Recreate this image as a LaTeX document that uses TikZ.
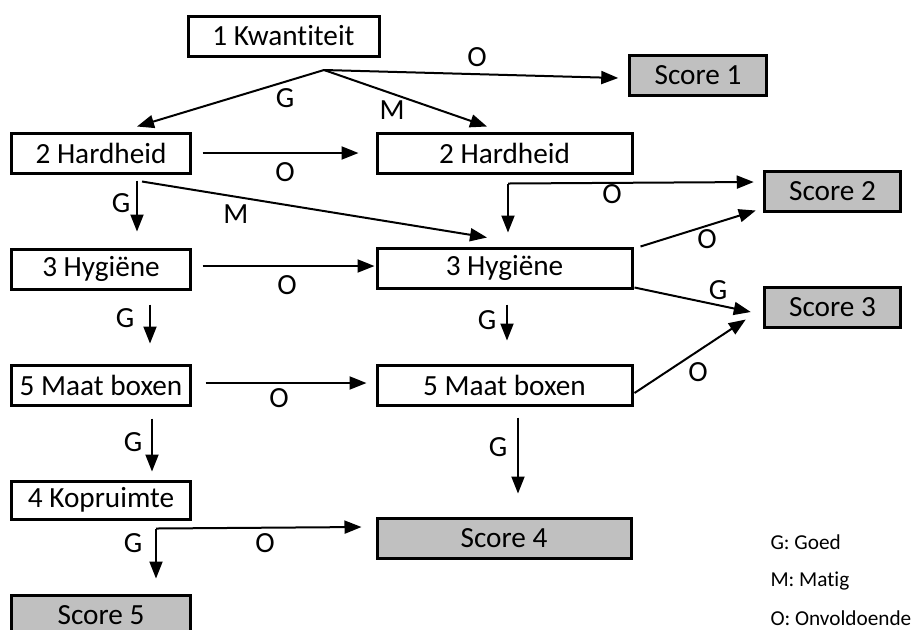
\documentclass[tikz,border=0pt]{standalone}
\usepackage{fontspec}
\setmainfont{Carlito}[Ligatures=NoCommon]
\usetikzlibrary{arrows.meta,calc}
\definecolor{scoregray}{RGB}{192,192,192}

\begin{document}
\begin{tikzpicture}[x=0.4pt, y=-0.4pt,
    font=\fontsize{11.7pt}{13pt}\selectfont,
    box/.style={draw, rectangle, line width=1.2pt, inner sep=1pt, minimum height=16pt},
    smallbox/.style={box, minimum width=71.2pt},
    widebox/.style={box, minimum width=102pt},
    scorebox/.style={box, fill=scoregray, minimum width=54.6pt},
    arr/.style={-{Triangle[length=6.8pt, width=5.2pt]}, line width=0.8pt},
    lbl/.style={inner sep=0pt},
    legend/.style={anchor=west, inner sep=0pt, font=\fontsize{8.5pt}{10pt}\selectfont}]
      \useasboundingbox (0,0) rectangle (912,629);

      % Start
      \node[box, minimum width=76.4pt] (kwant) at (283.5,36) {1 Kwantiteit};
      \coordinate (kwfork) at (324,70);

      % Left column
      \node[smallbox] (hard1) at (101,153) {2 Hardheid};
      \node[smallbox] (hyg1) at (101,269) {3 Hygiëne};
      \node[smallbox] (maat1) at (101,385) {5 Maat boxen};
      \node[smallbox, minimum height=15.2pt] (kop) at (101,500) {4 Kopruimte};
      \node[scorebox, minimum width=71.2pt] (score5) at (101,615) {Score 5};

      % Middle column
      \node[widebox] (hard2) at (504.5,153) {2 Hardheid};
      \node[widebox] (hyg2) at (504.5,268) {3 Hygiëne};
      \node[widebox] (maat2) at (504.5,385) {5 Maat boxen};
      \node[scorebox, minimum width=101.6pt] (score4) at (504,538) {Score 4};

      % Scores on the right
      \node[scorebox] (score1) at (698,75) {Score 1};
      \node[scorebox] (score2) at (832.5,191) {Score 2};
      \node[scorebox] (score3) at (832.5,307) {Score 3};

      % Arrows from Kwantiteit
      \draw[arr] (kwfork) -- ($(score1.west)+(-10,3)$);
      \draw[arr] (kwfork) -- ($(hard1.north)+(36,-5)$);
      \draw[arr] (kwfork) -- ($(hard2.north)+(-17.5,-5)$);
      \node[lbl] (o1) at (477,57) {O};
      \node[lbl] (g1) at (285,98) {G};
      \node[lbl] (m1) at (392,110) {M};

      % Arrows from Hardheid
      \draw[arr] ($(hard1.east)+(11,0)$) -- ($(hard2.west)+(-17,0)$);
      \draw[arr] ($(hard1.south)+(36,6)$) -- ($(hyg1.north)+(36,-16)$);
      \draw[arr] ($(hard1.south)+(41,7)$) -- ($(hyg2.north)+(-17.5,-9)$);
      \draw[arr] ($(hard2.south)+(3.5,9)$) coordinate (h2fork) -- ($(hyg2.north)+(3.5,-14)$);
      \draw[arr] (h2fork) -- ($(score2.west)+(-9,-9)$);
      \node[lbl] (o2) at (285,172) {O};
      \node[lbl] (g2) at (121,203) {G};
      \node[lbl] (m2) at (236,214) {M};
      \node[lbl] (o3) at (612,194) {O};

      % Arrows from Hygiene
      \draw[arr] ($(hyg1.east)+(11,-3)$) -- ($(hyg2.west)+(-1,-2)$);
      \draw[arr] ($(hyg2.north east)+(7,0)$) -- ($(score2.south west)+(-7,-2)$);
      \draw[arr] ($(hyg2.south east)+(1,-2)$) -- ($(score3.west)+(-12,5)$);
      \draw[arr] ($(hyg1.south)+(49,14)$) -- ($(maat1.north)+(49,-20)$);
      \draw[arr] ($(hyg2.south)+(2.5,15)$) -- ($(maat2.north)+(2.5,-23)$);
      \node[lbl] (o4) at (287,285) {O};
      \node[lbl] (o5) at (707,239) {O};
      \node[lbl] (g3) at (718,290) {G};
      \node[lbl] (g4) at (125,318) {G};
      \node[lbl] (g5) at (487,320) {G};

      % Arrows from Maat boxen
      \draw[arr] ($(maat1.east)+(14,-2)$) -- ($(maat2.west)+(-9,-2)$);
      \draw[arr] ($(maat2.east)+(1,8)$) -- ($(score3.south west)+(-17,-9)$);
      \draw[arr] ($(maat1.south)+(51,12)$) -- ($(kop.north)+(51,-8)$);
      \draw[arr] ($(maat2.south)+(13.5,11)$) -- ($(score4.north)+(14,-23)$);
      \node[lbl] (o6) at (279,398) {O};
      \node[lbl] (o7) at (698,372) {O};
      \node[lbl] (g6) at (133,442) {G};
      \node[lbl] (g7) at (498,447) {G};

      % Arrows from Kopruimte
      \draw[arr] ($(kop.south)+(55,8)$) coordinate (kopfork) -- ($(score5.north)+(55,-15)$);
      \draw[arr] (kopfork) -- ($(score4.west)+(-14,-11)$);
      \node[lbl] (g8) at (133,543) {G};
      \node[lbl] (o8) at (265,543) {O};

      % Legend
      \node[legend] (leg1) at (770,542) {G: Goed};
      \node[legend] (leg2) at (770,581) {M: Matig};
      \node[legend] (leg3) at (770,618) {O: Onvoldoende};
\end{tikzpicture}
\end{document}
